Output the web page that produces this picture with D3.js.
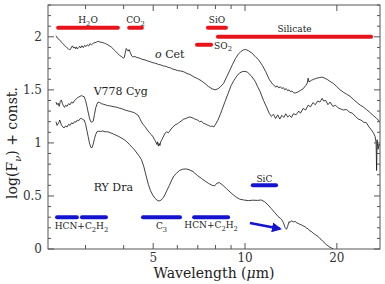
<!DOCTYPE html>
<html><head><meta charset="utf-8">
<script src="https://cdn.jsdelivr.net/npm/d3@7"></script>
<style>body{margin:0;background:#fff}svg{display:block}</style>
</head><body><svg id="c" width="385" height="284"></svg>
<script>
// ---- data: [wavelength (micron), log(Fnu)+const] ----
const oCet = [[2.40,2.010],[2.43,1.985],[2.46,1.975],[2.50,1.950],[2.53,1.935],[2.57,1.915],[2.60,1.900],[2.63,1.890],[2.66,1.875],[2.68,1.885],[2.70,1.905],[2.72,1.915],[2.74,1.895],[2.76,1.905],[2.78,1.888],[2.80,1.905],[2.82,1.885],[2.85,1.900],[2.87,1.912],[2.89,1.895],[2.92,1.915],[2.95,1.898],[2.98,1.920],[3.01,1.908],[3.04,1.925],[3.07,1.913],[3.10,1.935],[3.14,1.925],[3.18,1.940],[3.22,1.945],[3.26,1.950],[3.30,1.958],[3.35,1.950],[3.40,1.948],[3.46,1.940],[3.52,1.930],[3.58,1.918],[3.64,1.905],[3.70,1.885],[3.76,1.865],[3.82,1.845],[3.88,1.825],[3.94,1.812],[3.99,1.800],[4.02,1.805],[4.05,1.850],[4.08,1.890],[4.11,1.878],[4.14,1.865],[4.17,1.880],[4.21,1.850],[4.25,1.820],[4.29,1.810],[4.35,1.815],[4.42,1.805],[4.50,1.800],[4.60,1.788],[4.70,1.782],[4.80,1.772],[4.90,1.764],[5.00,1.755],[5.10,1.750],[5.20,1.740],[5.30,1.735],[5.40,1.725],[5.50,1.722],[5.60,1.712],[5.70,1.707],[5.80,1.695],[5.90,1.690],[6.00,1.682],[6.15,1.678],[6.30,1.670],[6.45,1.655],[6.60,1.645],[6.80,1.622],[7.00,1.605],[7.20,1.585],[7.40,1.558],[7.60,1.530],[7.80,1.510],[7.97,1.500],[8.15,1.510],[8.30,1.528],[8.50,1.560],[8.70,1.620],[8.90,1.680],[9.10,1.740],[9.30,1.795],[9.50,1.835],[9.70,1.862],[9.90,1.878],[10.05,1.880],[10.25,1.870],[10.50,1.850],[10.80,1.815],[11.10,1.780],[11.40,1.730],[11.70,1.670],[12.00,1.600],[12.30,1.555],[12.50,1.540],[12.60,1.525],[12.75,1.538],[12.90,1.518],[13.05,1.530],[13.20,1.512],[13.35,1.522],[13.50,1.500],[13.65,1.512],[13.80,1.492],[13.95,1.500],[14.10,1.482],[14.25,1.490],[14.40,1.475],[14.60,1.470],[14.90,1.480],[15.20,1.495],[15.50,1.510],[15.80,1.540],[16.00,1.565],[16.10,1.610],[16.20,1.575],[16.50,1.590],[16.80,1.600],[17.20,1.610],[17.50,1.615],[17.85,1.620],[18.20,1.612],[18.60,1.598],[19.00,1.580],[19.50,1.560],[20.00,1.530],[20.50,1.500],[21.00,1.478],[21.50,1.460],[22.10,1.440],[22.70,1.408],[23.30,1.380],[23.90,1.355],[24.40,1.340],[25.00,1.315],[25.60,1.290],[26.30,1.260],[27.00,1.230],[27.70,1.200]];

const v778Cyg = [[2.40,1.385],[2.42,1.360],[2.44,1.375],[2.46,1.345],[2.48,1.390],[2.50,1.405],[2.52,1.370],[2.54,1.350],[2.56,1.335],[2.58,1.355],[2.61,1.345],[2.64,1.370],[2.67,1.360],[2.70,1.385],[2.73,1.375],[2.76,1.400],[2.79,1.410],[2.82,1.425],[2.85,1.432],[2.88,1.440],[2.91,1.445],[2.94,1.440],[2.97,1.435],[3.00,1.400],[3.03,1.350],[3.06,1.290],[3.09,1.235],[3.12,1.200],[3.15,1.195],[3.18,1.205],[3.21,1.270],[3.24,1.330],[3.27,1.365],[3.30,1.385],[3.34,1.380],[3.38,1.370],[3.43,1.365],[3.48,1.360],[3.54,1.352],[3.60,1.350],[3.66,1.345],[3.72,1.340],[3.78,1.338],[3.85,1.330],[3.92,1.325],[3.98,1.318],[4.04,1.310],[4.10,1.305],[4.16,1.300],[4.22,1.295],[4.28,1.290],[4.34,1.285],[4.40,1.272],[4.46,1.262],[4.52,1.230],[4.58,1.195],[4.64,1.170],[4.70,1.155],[4.76,1.130],[4.82,1.110],[4.88,1.090],[4.94,1.075],[5.00,1.055],[5.05,1.030],[5.10,1.010],[5.14,0.985],[5.17,1.010],[5.20,0.970],[5.23,0.995],[5.26,0.975],[5.30,1.015],[5.34,1.030],[5.38,1.050],[5.43,1.075],[5.48,1.095],[5.54,1.105],[5.60,1.095],[5.66,1.110],[5.72,1.130],[5.80,1.150],[5.90,1.170],[6.00,1.180],[6.10,1.195],[6.20,1.210],[6.30,1.225],[6.40,1.230],[6.50,1.240],[6.60,1.245],[6.70,1.238],[6.80,1.230],[6.90,1.220],[7.00,1.215],[7.10,1.200],[7.20,1.205],[7.30,1.185],[7.40,1.180],[7.50,1.170],[7.60,1.165],[7.70,1.155],[7.80,1.160],[7.90,1.150],[8.00,1.175],[8.15,1.215],[8.30,1.270],[8.45,1.330],[8.60,1.390],[8.80,1.465],[9.00,1.540],[9.20,1.590],[9.40,1.630],[9.60,1.660],[9.80,1.672],[10.00,1.675],[10.20,1.665],[10.50,1.630],[10.80,1.580],[11.00,1.530],[11.20,1.485],[11.50,1.400],[11.80,1.330],[12.00,1.280],[12.20,1.250],[12.40,1.270],[12.60,1.230],[12.80,1.265],[13.00,1.225],[13.20,1.260],[13.40,1.240],[13.60,1.275],[13.80,1.245],[14.00,1.260],[14.20,1.240],[14.40,1.275],[14.70,1.265],[15.00,1.300],[15.20,1.280],[15.50,1.325],[15.80,1.310],[16.10,1.355],[16.40,1.340],[16.70,1.380],[17.00,1.360],[17.30,1.395],[17.60,1.385],[17.90,1.420],[18.10,1.395],[18.40,1.400],[18.70,1.360],[19.00,1.385],[19.40,1.345],[19.80,1.355],[20.20,1.330],[20.60,1.320],[21.00,1.310],[21.50,1.315],[22.00,1.290],[22.50,1.280],[23.00,1.250],[23.50,1.225],[24.00,1.215],[24.50,1.195],[25.00,1.190],[25.50,1.150],[26.00,1.120],[26.40,1.090],[26.70,1.060],[26.90,1.000],[27.00,0.740],[27.10,1.030],[27.30,0.940],[27.50,0.990],[27.70,0.970]];

const ryDra = [[2.40,1.200],[2.42,1.165],[2.45,1.190],[2.47,1.215],[2.50,1.170],[2.53,1.150],[2.55,1.140],[2.58,1.160],[2.61,1.150],[2.64,1.175],[2.67,1.165],[2.70,1.190],[2.73,1.180],[2.76,1.200],[2.79,1.195],[2.82,1.215],[2.85,1.210],[2.88,1.228],[2.91,1.230],[2.94,1.220],[2.97,1.215],[3.00,1.180],[3.03,1.120],[3.06,1.060],[3.09,1.000],[3.12,0.960],[3.15,0.955],[3.18,0.990],[3.21,1.040],[3.24,1.080],[3.27,1.105],[3.31,1.110],[3.36,1.108],[3.42,1.112],[3.48,1.105],[3.55,1.105],[3.62,1.095],[3.70,1.085],[3.78,1.072],[3.86,1.060],[3.94,1.045],[4.02,1.030],[4.10,1.010],[4.18,0.985],[4.26,0.960],[4.34,0.935],[4.42,0.905],[4.50,0.875],[4.58,0.840],[4.66,0.775],[4.74,0.690],[4.82,0.610],[4.90,0.550],[4.98,0.510],[5.06,0.480],[5.14,0.462],[5.22,0.452],[5.30,0.460],[5.38,0.478],[5.46,0.510],[5.55,0.555],[5.65,0.600],[5.75,0.650],[5.85,0.690],[5.97,0.715],[6.10,0.740],[6.25,0.752],[6.40,0.755],[6.55,0.748],[6.75,0.730],[7.00,0.690],[7.20,0.665],[7.40,0.640],[7.60,0.618],[7.80,0.600],[7.95,0.595],[8.10,0.622],[8.25,0.625],[8.45,0.602],[8.70,0.568],[9.00,0.528],[9.30,0.495],[9.60,0.470],[9.90,0.462],[10.25,0.456],[10.60,0.460],[11.00,0.458],[11.30,0.462],[11.60,0.445],[11.90,0.415],[12.20,0.380],[12.50,0.345],[12.85,0.305],[13.05,0.290],[13.20,0.275],[13.35,0.250],[13.52,0.205],[13.68,0.186],[13.80,0.215],[13.94,0.258],[14.05,0.250],[14.20,0.267],[14.40,0.255],[14.60,0.260],[14.80,0.245],[14.96,0.240],[15.15,0.232],[15.30,0.228],[15.50,0.218],[15.73,0.210],[15.90,0.198],[16.10,0.190],[16.30,0.172],[16.54,0.163],[16.70,0.150],[16.90,0.140],[17.10,0.130],[17.39,0.116],[17.60,0.098],[17.80,0.088],[18.00,0.072],[18.28,0.054],[18.50,0.040],[18.70,0.030],[19.00,0.016],[19.50,0.000]];

// feature bands: [label, lambda from, lambda to, level]
const redBands = [
  ["H2O", 2.44, 3.83, 2.085],
  ["CO2", 4.17, 4.59, 2.085],
  ["SiO", 7.56, 8.66, 2.085],
  ["SO2", 6.96, 7.74, 1.925],
  ["Silicate", 8.15, 25.9, 2.000]
];
const blueBands = [
  ["HCN+C2H2", 2.42, 2.81, 0.30],
  ["HCN+C2H2", 2.92, 3.50, 0.30],
  ["C3", 4.63, 6.12, 0.30],
  ["HCN+C2H2", 6.81, 8.80, 0.30],
  ["SiC", 10.6, 12.64, 0.60]
];
const arrowPts = [[10.38, 0.245], [13.02, 0.190]];

const xTicks = [3,4,5,6,7,8,9,10,20];
const xLabels = [5,10,20];
const yMajor = [0,0.5,1,1.5,2];
const yMinor = d3.range(0, 2.31, 0.1);

// ---- drawing ----
const svg = d3.select("#c");
const L=48, R=380, T=5, B=249;
const x = d3.scaleLog().domain([2.26, 27.7]).range([L, R]);
const y = d3.scaleLinear().domain([0, 2.3]).range([B, T]);
const serif = "DejaVu Serif";
const FS = 9;

svg.append("defs").append("clipPath").attr("id","clip")
  .append("rect").attr("x",L).attr("y",T).attr("width",R-L).attr("height",B-T);

function richText(sel, str, size) {
  const parts = str.match(/[0-9]+|[^0-9]+/g);
  let sub = false;
  parts.forEach(p => {
    const isNum = /^[0-9]+$/.test(p);
    const t = sel.append("tspan").text(p);
    if (isNum && !sub) { t.attr("dy", size*0.3).attr("font-size", size*0.75); sub = true; }
    else if (!isNum && sub) { t.attr("dy", -size*0.3); sub = false; }
  });
}

const line = d3.line().x(d => x(d[0])).y(d => y(d[1]));
const g = svg.append("g").attr("clip-path","url(#clip)");
[oCet, v778Cyg, ryDra].forEach(s => {
  g.append("path").datum(s).attr("d", line)
    .attr("fill","none").attr("stroke","#111").attr("stroke-width",0.8)
    .attr("stroke-linejoin","round");
});

function drawBands(bands, color) {
  bands.forEach(b => {
    svg.append("line").attr("x1", x(b[1])).attr("x2", x(b[2]))
      .attr("y1", y(b[3])).attr("y2", y(b[3]))
      .attr("stroke", color).attr("stroke-width", 4).attr("stroke-linecap","round");
  });
}
drawBands(redBands, "#e8141c");
drawBands(blueBands, "#1414d0");

function labelAt(str, px, py, anchor) {
  const t = svg.append("text").attr("x", px).attr("y", py)
    .attr("font-family", serif).attr("font-size", FS).attr("fill","#222")
    .attr("text-anchor", anchor);
  richText(t, str, FS);
}
const mid = b => x(Math.sqrt(b[1]*b[2]));
labelAt(redBands[0][0], mid(redBands[0]), y(redBands[0][3]) - 5, "middle");
labelAt(redBands[1][0], mid(redBands[1]), y(redBands[1][3]) - 5, "middle");
labelAt(redBands[2][0], mid(redBands[2]), y(redBands[2][3]) - 5, "middle");
labelAt(redBands[3][0], x(redBands[3][2]) + 3, y(redBands[3][3]) + 4, "start");
labelAt(redBands[4][0], mid(redBands[4]), y(redBands[4][3]) - 5, "middle");
labelAt(blueBands[0][0], x(Math.sqrt(blueBands[0][1]*blueBands[1][2])), y(0.30) + 12, "middle");
labelAt(blueBands[2][0], mid(blueBands[2]), y(blueBands[2][3]) + 12, "middle");
labelAt(blueBands[3][0], mid(blueBands[3]), y(blueBands[3][3]) + 11, "middle");
labelAt(blueBands[4][0], mid(blueBands[4]), y(blueBands[4][3]) - 3.5, "middle");

// arrow
svg.append("defs").append("marker").attr("id","ah").attr("viewBox","0 0 10 10")
  .attr("refX",8).attr("refY",5).attr("markerWidth",4).attr("markerHeight",4)
  .attr("orient","auto").append("path").attr("d","M0,0 L10,5 L0,10 z").attr("fill","#1414d0");
svg.append("line").attr("x1", x(arrowPts[0][0])).attr("y1", y(arrowPts[0][1]))
  .attr("x2", x(arrowPts[1][0])).attr("y2", y(arrowPts[1][1]))
  .attr("stroke","#1414d0").attr("stroke-width",2.5).attr("marker-end","url(#ah)");

// star names
function starLabel(txt, lam, val, italicFirst) {
  const t = svg.append("text").attr("x", x(lam)).attr("y", y(val))
    .attr("font-family", serif).attr("font-size", 11).attr("fill","#222");
  if (italicFirst) {
    t.append("tspan").attr("font-style","italic").text("o");
    t.append("tspan").text(" Cet");
  } else t.text(txt);
}
starLabel("o Cet", 5.07, 1.80, true);
starLabel("V778 Cyg", 3.19, 1.455, false);
starLabel("RY Dra", 3.19, 0.55, false);

// frame
svg.append("rect").attr("x",L).attr("y",T).attr("width",R-L).attr("height",B-T)
  .attr("fill","none").attr("stroke","#555").attr("stroke-width",1);

// ticks
const tk = svg.append("g").attr("stroke","#555").attr("stroke-width",1);
xTicks.forEach(v => {
  const len = xLabels.includes(v) ? 6 : 4;
  tk.append("line").attr("x1",x(v)).attr("x2",x(v)).attr("y1",B).attr("y2",B-len);
  tk.append("line").attr("x1",x(v)).attr("x2",x(v)).attr("y1",T).attr("y2",T+len);
});
yMinor.forEach(v => {
  const major = yMajor.some(m => Math.abs(m-v) < 1e-6);
  const len = major ? 6 : 3;
  tk.append("line").attr("x1",L).attr("x2",L+len).attr("y1",y(v)).attr("y2",y(v));
  tk.append("line").attr("x1",R).attr("x2",R-len).attr("y1",y(v)).attr("y2",y(v));
});

// tick labels
xLabels.forEach(v => svg.append("text").attr("x",x(v)).attr("y",262)
  .attr("text-anchor","middle").attr("font-family",serif).attr("font-size",12).attr("fill","#333").text(v));
yMajor.forEach(v => svg.append("text").attr("x",42).attr("y",y(v)+4)
  .attr("text-anchor","end").attr("font-family",serif).attr("font-size",12).attr("fill","#333").text(v));

// axis titles
const xt = svg.append("text").attr("x",214).attr("y",278).attr("text-anchor","middle")
  .attr("font-family",serif).attr("font-size",14).attr("fill","#222");
xt.append("tspan").text("Wavelength (");
xt.append("tspan").attr("font-style","italic").text("μ");
xt.append("tspan").text("m)");

const yt = svg.append("text").attr("transform","translate(17,143) rotate(-90)").attr("text-anchor","middle")
  .attr("font-family",serif).attr("font-size",14).attr("fill","#222");
yt.append("tspan").text("log(F");
yt.append("tspan").attr("dy",4).attr("font-size",10).attr("font-style","italic").text("ν");
yt.append("tspan").attr("dy",-4).text(") + const.");
</script>
</body></html>
